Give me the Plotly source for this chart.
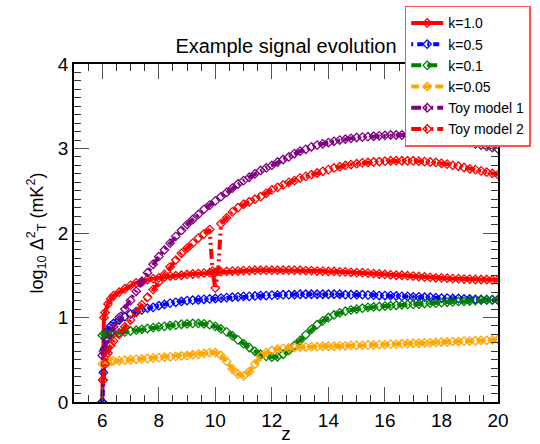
import plotly.graph_objects as go

# shared redshift grid (z >= 6.4)
z_grid = [6.4, 6.6, 6.8, 7.0, 7.2, 7.4, 7.6, 7.8, 8.0, 8.2, 8.4, 8.6, 8.8, 9.0, 9.2, 9.4, 9.6, 9.8,
          10.0, 10.2, 10.4, 10.6, 10.8, 11.0, 11.2, 11.4, 11.6, 11.8, 12.0, 12.2, 12.4, 12.6, 12.8,
          13.0, 13.2, 13.4, 13.6, 13.8, 14.0, 14.2, 14.4, 14.6, 14.8, 15.0, 15.2, 15.4, 15.6, 15.8,
          16.0, 16.2, 16.4, 16.6, 16.8, 17.0, 17.2, 17.4, 17.6, 17.8, 18.0, 18.2, 18.4, 18.6, 18.8,
          19.0, 19.2, 19.4, 19.6, 19.8, 20.0]

# k = 1.0
z_k10 = [6.0, 6.02, 6.04, 6.06, 6.1, 6.2, 6.3] + z_grid
v_k10 = [0.0, 0.26, 0.6, 1.0, 1.06, 1.16, 1.22,
         1.26, 1.30, 1.34, 1.38, 1.41, 1.43, 1.45, 1.46, 1.47, 1.48, 1.49, 1.495, 1.50, 1.51, 1.515,
         1.52, 1.525, 1.53, 1.535, 1.54, 1.545, 1.55, 1.55, 1.555, 1.555, 1.56, 1.56, 1.56, 1.56,
         1.56, 1.56, 1.56, 1.56, 1.56, 1.555, 1.555, 1.55, 1.55, 1.545, 1.545, 1.54, 1.54, 1.535,
         1.53, 1.53, 1.525, 1.52, 1.515, 1.51, 1.505, 1.50, 1.50, 1.495, 1.49, 1.485, 1.48, 1.475,
         1.47, 1.47, 1.465, 1.46, 1.46, 1.455, 1.455, 1.45, 1.45, 1.45, 1.445, 1.445]

# k = 0.5
z_k05 = [6.0, 6.04, 6.08, 6.12, 6.2, 6.3] + z_grid
v_k05 = [0.0, 0.35, 0.62, 0.75, 0.84, 0.9,
         0.93, 0.97, 1.01, 1.04, 1.07, 1.09, 1.11, 1.12, 1.14, 1.155, 1.17, 1.18, 1.19, 1.20, 1.205,
         1.21, 1.215, 1.22, 1.225, 1.23, 1.235, 1.24, 1.245, 1.25, 1.25, 1.255, 1.26, 1.26, 1.265,
         1.265, 1.27, 1.27, 1.27, 1.275, 1.275, 1.275, 1.275, 1.275, 1.275, 1.275, 1.275, 1.27,
         1.27, 1.27, 1.27, 1.265, 1.265, 1.26, 1.26, 1.26, 1.255, 1.25, 1.25, 1.245, 1.245, 1.24,
         1.24, 1.235, 1.23, 1.23, 1.225, 1.225, 1.22, 1.22, 1.215, 1.215, 1.21, 1.21, 1.205]

# k = 0.1
z_k01 = [6.0, 6.1, 6.2, 6.3] + z_grid
v_k01 = [0.79, 0.795, 0.80, 0.805,
         0.81, 0.82, 0.83, 0.84, 0.85, 0.86, 0.87, 0.88, 0.89, 0.895, 0.905, 0.91, 0.92, 0.925, 0.93,
         0.93, 0.925, 0.915, 0.895, 0.865, 0.83, 0.785, 0.735, 0.69, 0.645, 0.60, 0.565, 0.54, 0.53,
         0.535, 0.565, 0.61, 0.67, 0.73, 0.795, 0.86, 0.915, 0.96, 1.0, 1.03, 1.055, 1.075, 1.09,
         1.10, 1.11, 1.12, 1.125, 1.13, 1.135, 1.14, 1.145, 1.15, 1.155, 1.155, 1.16, 1.165, 1.17,
         1.17, 1.175, 1.18, 1.185, 1.19, 1.19, 1.195, 1.20, 1.205, 1.21, 1.21, 1.215]

# k = 0.05
z_k005 = [6.0, 6.1, 6.2, 6.3] + z_grid
v_k005 = [0.45, 0.465, 0.475, 0.48,
          0.485, 0.49, 0.495, 0.50, 0.505, 0.51, 0.515, 0.52, 0.525, 0.53, 0.535, 0.54, 0.545, 0.55,
          0.56, 0.565, 0.575, 0.585, 0.585, 0.55, 0.48, 0.39, 0.33, 0.31, 0.36, 0.45, 0.54, 0.585,
          0.61, 0.625, 0.635, 0.64, 0.645, 0.65, 0.65, 0.655, 0.655, 0.66, 0.66, 0.66, 0.665, 0.665,
          0.67, 0.67, 0.67, 0.675, 0.675, 0.68, 0.68, 0.685, 0.685, 0.69, 0.69, 0.695, 0.695, 0.70,
          0.70, 0.705, 0.71, 0.71, 0.715, 0.715, 0.72, 0.72, 0.725, 0.73, 0.73, 0.735, 0.74]

# Toy model 1
z_toy1 = [6.0, 6.1, 6.2, 6.3] + z_grid
v_toy1 = [0.55, 0.64, 0.74, 0.82,
          0.89, 1.0, 1.1, 1.2, 1.31, 1.42, 1.53, 1.63, 1.72, 1.80, 1.88, 1.96, 2.03, 2.10, 2.16, 2.22,
          2.28, 2.33, 2.38, 2.43, 2.48, 2.53, 2.58, 2.62, 2.66, 2.70, 2.74, 2.77, 2.80, 2.84, 2.87,
          2.90, 2.94, 2.97, 2.99, 3.02, 3.04, 3.055, 3.07, 3.085, 3.10, 3.11, 3.12, 3.13, 3.135, 3.14,
          3.145, 3.15, 3.155, 3.16, 3.16, 3.16, 3.16, 3.16, 3.155, 3.15, 3.145, 3.14, 3.13, 3.12,
          3.11, 3.10, 3.085, 3.07, 3.055, 3.04, 3.025, 3.01, 2.995]

# Toy model 2
z_toy2 = [6.02, 6.1, 6.2, 6.3, 6.4, 6.6, 6.8, 7.0, 7.2, 7.4, 7.6, 7.8, 8.0, 8.2, 8.4, 8.6, 8.8,
          9.0, 9.2, 9.4, 9.6, 9.8, 9.9, 10.0, 10.1, 10.2, 10.4, 10.6, 10.8, 11.0, 11.2, 11.4, 11.6,
          11.8, 12.0, 12.2, 12.4, 12.6, 12.8, 13.0, 13.2, 13.4, 13.6, 13.8, 14.0, 14.2, 14.4, 14.6,
          14.8, 15.0, 15.2, 15.4, 15.6, 15.8, 16.0, 16.2, 16.4, 16.6, 16.8, 17.0, 17.2, 17.4, 17.6,
          17.8, 18.0, 18.2, 18.4, 18.6, 18.8, 19.0, 19.2, 19.4, 19.6, 19.8, 20.0]
v_toy2 = [0.26, 0.45, 0.58, 0.67, 0.72, 0.80, 0.89, 0.97, 1.06, 1.15, 1.24, 1.33, 1.42, 1.51,
          1.60, 1.68, 1.76, 1.82, 1.88, 1.94, 1.99, 2.04, 1.55, 1.35, 1.55, 2.11, 2.18, 2.25, 2.30,
          2.34, 2.37, 2.40, 2.43, 2.47, 2.51, 2.54, 2.57, 2.60, 2.62, 2.65, 2.67, 2.69, 2.71, 2.73,
          2.75, 2.77, 2.785, 2.80, 2.81, 2.82, 2.83, 2.835, 2.84, 2.845, 2.85, 2.855, 2.855, 2.855,
          2.855, 2.855, 2.85, 2.845, 2.84, 2.835, 2.825, 2.815, 2.80, 2.79, 2.775, 2.76, 2.75,
          2.735, 2.72, 2.705, 2.69]

series = [
    ("k=1.0", z_k10, v_k10, "#ff0000", "solid"),
    ("k=0.5", z_k05, v_k05, "#0000ff", "2px,4px,6px,4px"),
    ("k=0.1", z_k01, v_k01, "#008000", "10px,6px"),
    ("k=0.05", z_k005, v_k005, "#ffa500", "8px,4px"),
    ("Toy model 1", z_toy1, v_toy1, "#800080", "10px,4px,2px,4px,2px,4px"),
    ("Toy model 2", z_toy2, v_toy2, "#ff0000", "10px,4px,2px,4px,2px,4px"),
]

FONT = "Liberation Sans, Arial, Helvetica, sans-serif"

fig = go.Figure()
for name, zs, vs, col, dash in series:
    fig.add_trace(go.Scatter(
        x=zs, y=vs, name=name, mode="lines+markers",
        line=dict(color=col, width=4, dash=dash),
        marker=dict(symbol="diamond-open", size=6.5, color=col, line=dict(width=1.3, color=col)),
    ))

fig.update_layout(
    width=540, height=444,
    margin=dict(l=74, r=42, t=64, b=42, autoexpand=False),
    paper_bgcolor="white", plot_bgcolor="white",
    font=dict(family=FONT, size=17, color="black"),
    title=dict(text="Example signal evolution", x=0.5, xref="paper", xanchor="center",
               y=(444 - 46) / 444, yref="container", yanchor="middle",
               font=dict(size=20, family=FONT, color="black")),
    legend=dict(x=0.78, y=1.172, xanchor="left", yanchor="top",
                bgcolor="white", bordercolor="#ff5050", borderwidth=1.5,
                font=dict(size=14, family=FONT, color="black"),
                itemwidth=32, tracegroupgap=0),
    showlegend=True,
)

fig.update_xaxes(
    range=[5, 20], tickmode="linear", tick0=6, dtick=2,
    ticks="inside", ticklen=15, tickwidth=1.2, tickcolor="#555",
    minor=dict(ticks="inside", ticklen=7, dtick=0.5, tick0=5, tickcolor="#333", tickwidth=1),
    showline=True, linecolor="black", linewidth=1.5, mirror="ticks",
    showgrid=False, zeroline=False,
    tickfont=dict(size=19, family=FONT), title=dict(text="z", font=dict(size=19), standoff=0),
)
fig.update_yaxes(
    range=[0, 4], tickmode="linear", tick0=0, dtick=1,
    ticks="inside", ticklen=15, tickwidth=1.2, tickcolor="#555",
    minor=dict(ticks="inside", ticklen=7, dtick=0.1, tickcolor="#333", tickwidth=1),
    showline=True, linecolor="black", linewidth=1.5, mirror="ticks",
    showgrid=False, zeroline=False,
    tickfont=dict(size=19, family=FONT),
    title=dict(text="log<sub>10</sub> Δ<sup>2</sup><sub>T</sub> (mK<sup>2</sup>)",
               font=dict(size=18), standoff=10),
)

fig.write_html("out.html")
